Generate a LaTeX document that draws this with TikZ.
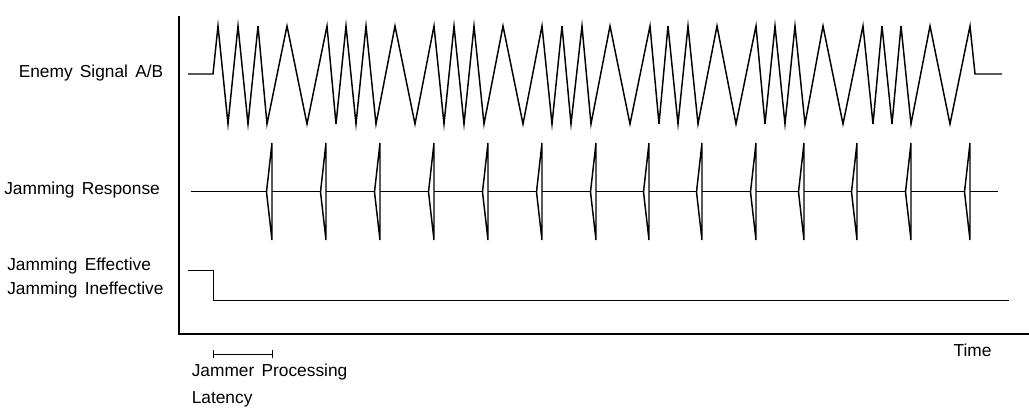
\documentclass[tikz,border=0pt]{standalone}
\usepackage{fontspec}
\setmainfont{Liberation Sans}[WordSpace=1.5]
\usetikzlibrary{calc,positioning}
\tikzset{
  rotulo/.style={
    font=\fontsize{13}{16}\selectfont,
    inner sep=0pt
  },
  senal/.style={
    line width=1.1pt,
    line join=miter
  },
  eje/.style={
    line width=1.5pt
  }
}

\begin{document}
\begin{tikzpicture}[x=0.75pt,y=-0.75pt]
\useasboundingbox (0,0) rectangle (1029,409);
% ejes
\coordinate (ejetop) at (179,16);
\coordinate (origen) at (179,334);
\coordinate (ejefin) at (1029,334);
\draw[eje] (ejetop) -- (origen) -- (ejefin);
% etiquetas
\node[rotulo,anchor=base west] (enemigo) at (18.5,77.7) {Enemy Signal A/B};
\node[rotulo,anchor=base west] (respuesta) at (4,195) {Jamming Response};
\node[rotulo,anchor=base west] (efectivo) at (7,270.7) {Jamming Effective};
\node[rotulo,anchor=base west] (inefectivo) at (7,295) {Jamming Ineffective};
\node[rotulo,anchor=base west] (tiempo) at (953.3,356.7) {Time};
\node[rotulo,anchor=base west] (proceso) at (191.5,376.7) {Jammer Processing};
\node[rotulo,anchor=base west] (latencia) at (191.5,404) {Latency};
% senal enemiga
\draw[senal] plot coordinates {
  (188,74) (213,74) (218,26) (228,124) (238,26) (248,124) (258,26)
  (267,124) (287,26) (307,124) (327,26) (336,124) (346,26) (356,124)
  (366,26) (376,124) (395,26) (415,124) (434,26) (444,124) (454,26)
  (464,124) (474,26) (484,124) (503,26) (523,124) (542,26) (552,124)
  (562,26) (571,124) (582,26) (591,124) (610,26) (630,124) (650,26)
  (659,124) (668,26) (678,124) (688,26) (698,124) (717,26) (736,124)
  (756,26) (765,124) (775,26) (785,124) (795,26) (805,124) (823,26)
  (843,124) (863,26) (873,124) (882,26) (892,124) (901,26) (911,124)
  (930,26) (950,124) (970,26) (975,74) (1002,74)};
% respuesta del jammer
\coordinate (resini) at (190.7,191.7);
\coordinate (resfin) at (998,191.7);
\draw[senal] (resini) -- (resfin);
\foreach \x in {272,326,380,434,488,542,596,649,702,756,804,857,911,970}
  \draw[senal,fill=white] (\x,143) -- (\x-5.5,192) -- (\x,240) -- cycle;
% efectividad
\coordinate (efini) at (188,270.7);
\coordinate (efcae) at (213.3,270.7);
\coordinate (efbaj) at (213.3,300.7);
\coordinate (effin) at (1009.3,300.7);
\draw[senal] (efini) -- (efcae) -- (efbaj) -- (effin);
% latencia
\coordinate (latini) at (213.3,354.3);
\coordinate (latfin) at (272.7,354.3);
\draw[senal] (latini) -- (latfin);
\draw[senal] ($(latini)+(0,-4.3)$) -- ($(latini)+(0,4)$);
\draw[senal] ($(latfin)+(0,-4.3)$) -- ($(latfin)+(0,4)$);
\end{tikzpicture}
\end{document}
